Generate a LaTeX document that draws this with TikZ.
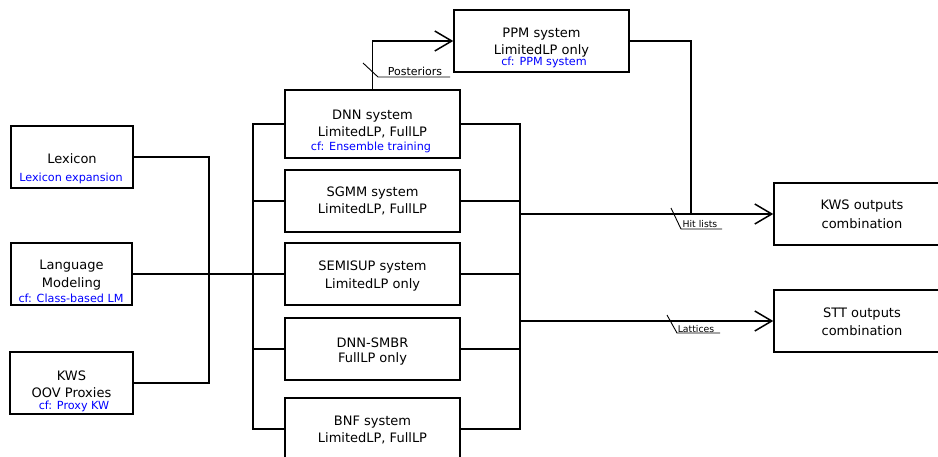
\documentclass[tikz,border=0pt]{standalone}
\usepackage{fontspec}
\setmainfont{DejaVu Sans}
\usetikzlibrary{arrows.meta}
\tikzset{
  box/.style={draw, line width=1.5pt, inner sep=0pt, minimum width=#1},
  box/.default=175pt,
  mtxt/.style={font=\fontsize{13}{15}\selectfont, inner sep=0pt, yshift=-1.5pt},
  btxt/.style={font=\fontsize{11.2}{13}\selectfont, text=blue, inner sep=0pt, yshift=-1pt},
  ltxt/.style={font=\fontsize{9.3}{11}\selectfont, inner sep=0pt},
  ptxt/.style={font=\fontsize{11}{13}\selectfont, inner sep=0pt},
  wire/.style={line width=1.5pt},
  thin/.style={line width=0.9pt},
  arr/.style={wire, -{Straight Barb[length=17pt,width=20pt,line width=1.5pt]}},
}
\begin{document}
\begin{tikzpicture}[x=1pt,y=-1pt]
\clip (0,0) rectangle (938,457);
\fill[white] (0,0) rectangle (938,457);
% boxes
\node[box=175pt, minimum height=62pt] (ppm) at (541.5,41) {};
\node[box=175pt, minimum height=68pt] (dnn) at (372.5,124) {};
\node[box=175pt, minimum height=62pt] (sgmm) at (372.5,201) {};
\node[box=175pt, minimum height=62pt] (semi) at (372.5,274) {};
\node[box=175pt, minimum height=62pt] (smbr) at (372.5,349) {};
\node[box=175pt, minimum height=62pt] (bnf) at (372.5,429) {};
\node[box=122pt, minimum height=62pt] (lex) at (72,157) {};
\node[box=121pt, minimum height=62pt] (lm) at (71.5,274) {};
\node[box=123pt, minimum height=62pt] (kws) at (71.5,383) {};
\node[box=176pt, minimum height=62pt] (kwsc) at (862,214) {};
\node[box=176pt, minimum height=62pt] (stt) at (862,321) {};
% texts
\node[mtxt] at (541.5,33) {PPM system};
\node[mtxt] at (541.5,49) {LimitedLP only};
\node[btxt] at (544,61) {cf: PPM system};
\node[mtxt] at (372.5,115) {DNN system};
\node[mtxt] at (372.5,131) {LimitedLP, FullLP};
\node[btxt] at (371,146) {cf: Ensemble training};
\node[mtxt] at (372.5,192) {SGMM system};
\node[mtxt] at (372.5,208) {LimitedLP, FullLP};
\node[mtxt] at (372.5,266) {SEMISUP system};
\node[mtxt] at (372.5,283) {LimitedLP only};
\node[mtxt] at (372.5,341) {DNN-SMBR};
\node[mtxt] at (372.5,357) {FullLP only};
\node[mtxt] at (372.5,421) {BNF system};
\node[mtxt] at (372.5,437) {LimitedLP, FullLP};
\node[mtxt] at (72,157) {Lexicon};
\node[btxt] at (71,177) {Lexicon expansion};
\node[mtxt] at (71.5,265) {Language};
\node[mtxt] at (71.5,282) {Modeling};
\node[btxt] at (71,297) {cf: Class-based LM};
\node[mtxt] at (71.5,374) {KWS};
\node[mtxt] at (71.5,391) {OOV Proxies};
\node[btxt] at (74,405) {cf: Proxy KW};
\node[mtxt] at (862,205) {KWS outputs};
\node[mtxt] at (862,222) {combination};
\node[mtxt] at (862,313) {STT outputs};
\node[mtxt] at (862,329) {combination};
% junctions
\coordinate (jl) at (209,274);
\coordinate (lb) at (253,274);
\coordinate (rb) at (520,214);
\coordinate (rb2) at (520,321);
\coordinate (hj) at (691,214);
% left side
\draw[wire] (lex.east) -| (jl) |- (kws.east);
\draw[wire] (lm.east) -- (lb);
\draw[wire] (dnn.west) -| (lb) |- (bnf.west);
\draw[wire] (sgmm.west) -- (sgmm.west -| lb);
\draw[wire] (semi.west) -- (semi.west -| lb);
\draw[wire] (smbr.west) -- (smbr.west -| lb);
% right side
\draw[wire] (dnn.east) -| (rb) |- (bnf.east);
\draw[wire] (sgmm.east) -- (sgmm.east -| rb);
\draw[wire] (semi.east) -- (semi.east -| rb);
\draw[wire] (smbr.east) -- (smbr.east -| rb);
\draw[arr] (rb) -- (kwsc.west);
\draw[arr] (rb2) -- (stt.west);
\draw[arr] (dnn.north) |- (ppm.west);
\draw[wire] (ppm.east) -| (hj);
% labels
\draw[thin] (363,63) -- (378,77) -- (450,77);
\node[ptxt] at (415,71) {Posteriors};
\draw[thin] (671,208) -- (681,229) -- (722,229);
\node[ltxt] at (700,224) {Hit lists};
\draw[thin] (667,315) -- (677,333) -- (720,333);
\node[ltxt] at (696,329) {Lattices};
\end{tikzpicture}
\end{document}
